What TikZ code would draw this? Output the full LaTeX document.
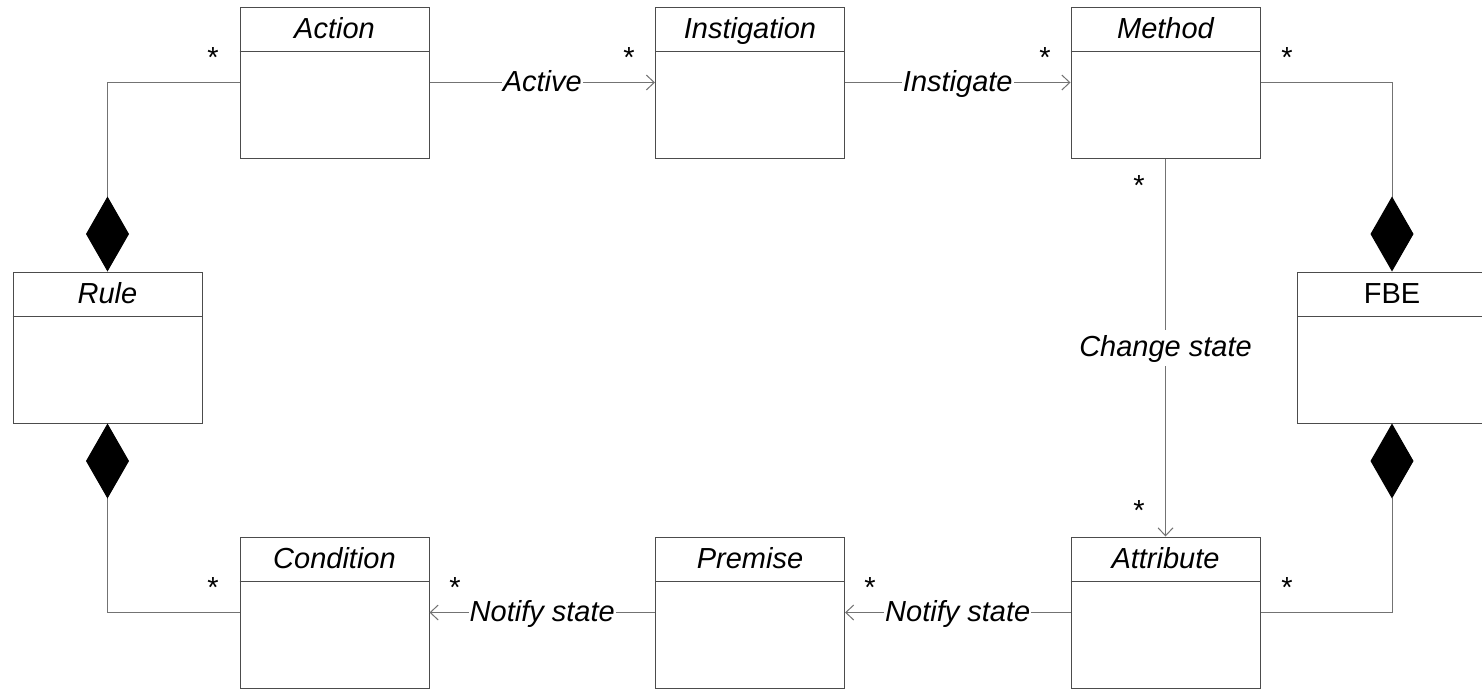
\documentclass[tikz,border=0pt]{standalone}
\usepackage{fontspec}
\setmainfont{Liberation Sans}
\usetikzlibrary{arrows.meta}

% one UML class: name, x, y, title
\newcommand\umlcls[4]{%
  \node[classbox] (#1) at (#2,#3) {};
  \draw[boxline] ([yshift=-45pt]#1.north west) -- ([yshift=-45pt]#1.north east);
  \node[classtitle] (#1-title) at ([yshift=-32pt]#1.north) {#4};
}

\begin{document}
\begin{tikzpicture}[x=1pt,y=-1pt,
  every node/.style={font=\fontsize{29}{34}\selectfont},
  boxline/.style={draw=black!70, line width=1pt},
  classbox/.style={boxline, fill=white, minimum width=189pt, minimum height=151pt, inner sep=0pt},
  classtitle/.style={anchor=base, inner sep=0pt},
  link/.style={draw=black!55, line width=1pt},
  navig/.style={link, -{Straight Barb[length=8pt,width=15pt]}},
  compos/.style={link, -{Diamond[length=75pt,width=43pt,color=black,fill=black]}},
  linklabel/.style={fill=white, inner xsep=1pt, inner ysep=2pt,
    text height=21pt, text depth=3pt,
    font=\fontsize{29}{34}\selectfont\itshape},
  mult/.style={anchor=base, inner sep=0pt}
]
\useasboundingbox (0,0) rectangle (1482,688);

% classes
\umlcls{action}{334.5}{82.5}{\itshape Action}
\umlcls{instigation}{750}{82.5}{\itshape Instigation}
\umlcls{method}{1165.5}{82.5}{\itshape Method}
\umlcls{rule}{107.5}{347.5}{\itshape Rule}
\umlcls{fbe}{1392}{347.5}{FBE}
\umlcls{condition}{334.5}{612.5}{\itshape Condition}
\umlcls{premise}{750}{612.5}{\itshape Premise}
\umlcls{attribute}{1165.5}{612.5}{\itshape Attribute}

% navigable associations
\draw[navig] (action.east) -- node[linklabel] (lbl-active) {Active} (instigation.west);
\draw[navig] (instigation.east) -- node[linklabel] (lbl-instigate) {Instigate} (method.west);
\draw[navig] (method.south) -- node[linklabel, inner ysep=6pt] (lbl-change) {Change state} (attribute.north);
\draw[navig] (attribute.west) -- node[linklabel] (lbl-notify2) {Notify state} (premise.east);
\draw[navig] (premise.west) -- node[linklabel] (lbl-notify1) {Notify state} (condition.east);

% compositions
\draw[compos] (action.west) -| (rule.north);
\draw[compos] (condition.west) -| (rule.south);
\draw[compos] (method.east) -| (fbe.north);
\draw[compos] (attribute.east) -| (fbe.south);

% multiplicities
\node[mult] (m-action) at (213,67) {*};
\node[mult] (m-instigation) at (629,67) {*};
\node[mult] (m-method-in) at (1045,67) {*};
\node[mult] (m-method-fbe) at (1287,67) {*};
\node[mult] (m-method-down) at (1139,195) {*};
\node[mult] (m-attribute-top) at (1139,520) {*};
\node[mult] (m-condition-rule) at (213,597) {*};
\node[mult] (m-condition-in) at (455,597) {*};
\node[mult] (m-premise-in) at (870,597) {*};
\node[mult] (m-attribute-fbe) at (1287,597) {*};
\end{tikzpicture}
\end{document}
